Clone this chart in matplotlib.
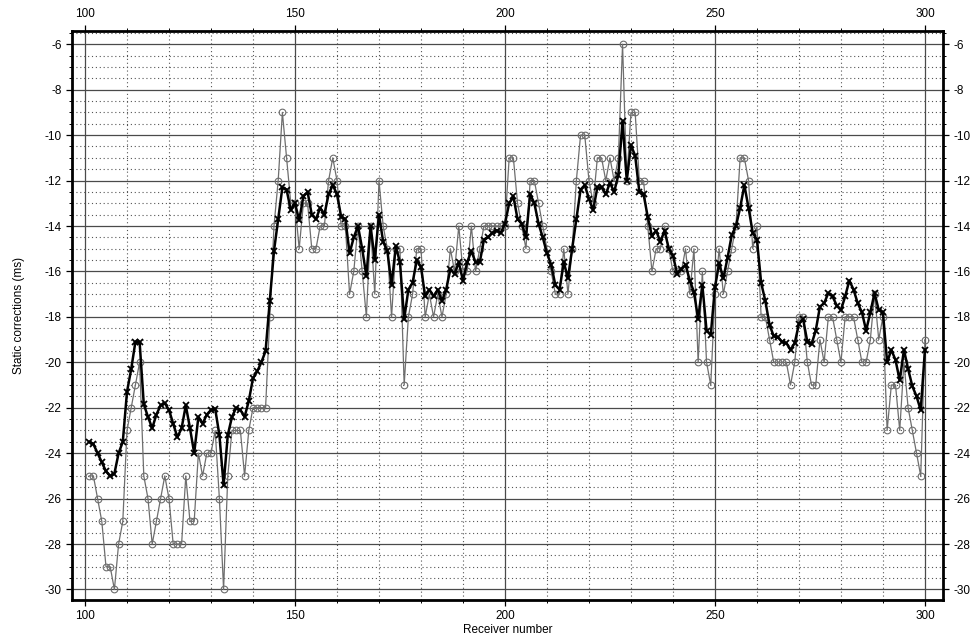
import numpy as np
import matplotlib.pyplot as plt
from matplotlib.ticker import MultipleLocator

plt.rcParams['font.family'] = ['Liberation Sans', 'DejaVu Sans']
plt.rcParams['axes.unicode_minus'] = False

receivers = list(range(101, 301))

# picked statics (integer ms), open circles
picked = [-25, -25, -26, -27, -29, -29, -30, -28, -27, -23,
          -22, -21, -20, -25, -26, -28, -27, -26, -25, -26,
          -28, -28, -28, -25, -27, -27, -24, -25, -24, -24,
          -23, -26, -30, -25, -23, -23, -23, -25, -23, -22,
          -22, -22, -22, -18, -14, -12, -9, -11, -13, -13,
          -15, -13, -13, -15, -15, -14, -14, -12, -11, -12,
          -14, -14, -17, -16, -14, -16, -18, -14, -17, -12,
          -14, -15, -18, -15, -15, -21, -18, -17, -15, -15,
          -18, -17, -18, -17, -18, -17, -15, -16, -14, -16,
          -16, -14, -16, -15, -14, -14, -14, -14, -14, -14,
          -11, -11, -13, -14, -15, -12, -12, -13, -14, -15,
          -16, -17, -17, -15, -17, -15, -12, -10, -10, -12,
          -13, -11, -11, -12, -11, -12, -11, -6, -12, -9,
          -9, -12, -12, -14, -16, -15, -15, -14, -15, -16,
          -16, -16, -15, -17, -15, -20, -16, -20, -21, -17,
          -15, -17, -16, -15, -14, -11, -11, -12, -15, -14,
          -18, -18, -19, -20, -20, -20, -20, -21, -20, -18,
          -18, -20, -21, -21, -19, -20, -18, -18, -19, -20,
          -18, -18, -18, -19, -20, -20, -19, -17, -19, -18,
          -23, -21, -21, -23, -20, -22, -23, -24, -25, -19]

# smoothed statics, x markers
smoothed = [-23.5, -23.6, -24.0, -24.4, -24.8, -25.0, -24.9, -24.0, -23.5, -21.3,
            -20.3, -19.1, -19.1, -21.85, -22.4, -22.9, -22.3, -21.9, -21.8, -22.1,
            -22.7, -23.3, -22.9, -21.9, -22.9, -24.0, -22.4, -22.7, -22.3, -22.1,
            -22.05, -23.2, -25.4, -23.2, -22.4, -22.0, -22.1, -22.4, -21.7, -20.7,
            -20.4, -20.0, -19.5, -17.3, -15.1, -13.7, -12.3, -12.4, -13.3, -13.0,
            -13.75, -12.7, -12.5, -13.5, -13.7, -13.2, -13.5, -12.6, -12.2, -12.6,
            -13.6, -13.7, -15.2, -14.5, -14.0, -15.0, -16.2, -14.0, -15.5, -13.5,
            -14.7, -15.1, -16.6, -14.9, -15.6, -18.1, -16.8, -16.5, -15.5, -15.8,
            -17.1, -16.8, -17.1, -16.8, -17.3, -16.8, -15.9, -16.1, -15.6, -16.4,
            -15.6, -15.1, -15.6, -15.6, -14.6, -14.5, -14.3, -14.2, -14.3, -13.9,
            -13.0, -12.7, -13.7, -13.9, -14.5, -12.6, -13.0, -13.9, -14.5, -15.2,
            -15.7, -16.6, -16.8, -15.6, -16.3, -15.0, -13.7, -12.4, -12.2, -12.8,
            -13.3, -12.3, -12.3, -12.6, -12.1, -12.5, -11.75, -9.4, -12.0, -10.45,
            -10.9, -12.5, -12.6, -13.6, -14.45, -14.2, -14.7, -14.2, -15.0, -15.3,
            -16.1, -15.9, -15.7, -16.4, -16.9, -18.1, -16.6, -18.6, -18.8, -16.7,
            -15.65, -16.3, -15.4, -14.4, -14.0, -13.2, -12.2, -13.2, -14.3, -14.6,
            -16.5, -17.3, -18.35, -18.85, -18.9, -19.1, -19.15, -19.45, -19.15, -18.3,
            -18.1, -19.1, -19.2, -18.6, -17.55, -17.4, -16.95, -17.1, -17.5, -17.7,
            -17.1, -16.4, -16.8, -17.4, -17.8, -18.6, -17.8, -16.95, -17.7, -17.8,
            -20.0, -19.45, -19.9, -20.8, -19.45, -20.3, -21.05, -21.5, -22.1, -19.45]

fig = plt.figure(figsize=(9.78, 6.38), dpi=100)
ax = fig.add_axes([0.0736, 0.06, 0.8906, 0.892])

ax.plot(receivers, picked, color='#6e6e6e', lw=0.9, marker='o', ms=4.8,
        mfc='none', mec='#6e6e6e', mew=0.8, zorder=3)
ax.plot(receivers, smoothed, color='black', lw=1.8, marker='x', ms=4.5,
        mec='black', mew=1.3, zorder=4)

ax.set_xlim(96.9, 304.3)
ax.set_ylim(-30.45, -5.4)

ax.xaxis.set_major_locator(MultipleLocator(50))
ax.xaxis.set_minor_locator(MultipleLocator(10))
ax.yaxis.set_major_locator(MultipleLocator(2))
ax.yaxis.set_minor_locator(MultipleLocator(0.5))

ax.grid(which='major', color='#4a4a4a', lw=0.9, ls='-')
ax.grid(which='minor', color='#555555', lw=0.8, ls=(0, (1, 2.5)))
ax.set_axisbelow(True)

ax.tick_params(which='both', top=True, right=True, labeltop=True, labelright=True,
               direction='out', labelsize=8.5, colors='black')
ax.tick_params(which='major', length=4, width=0.9)
ax.tick_params(which='minor', length=2, width=0.7)

for s in ax.spines.values():
    s.set_linewidth(2)
    s.set_color('black')

ax.set_xlabel('Receiver number', fontsize=8.5, labelpad=1)
ax.set_ylabel('Static corrections (ms)', fontsize=8.5, labelpad=14)

fig.savefig('out.png', dpi=100, facecolor='white')
